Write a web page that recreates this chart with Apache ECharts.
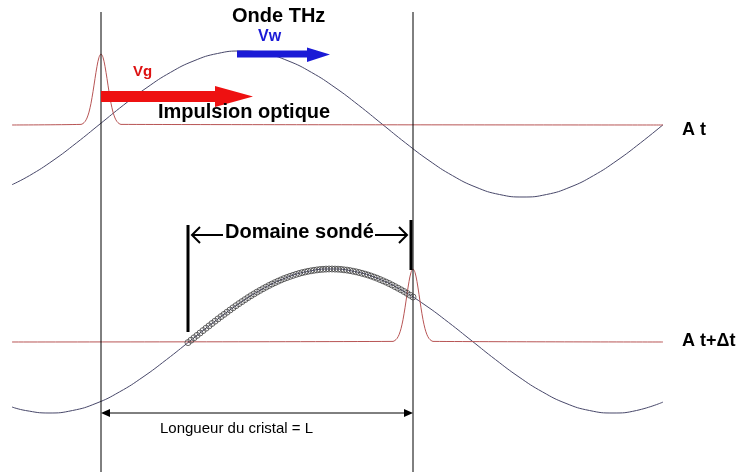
<!DOCTYPE html>
<html>
<head>
<meta charset="utf-8">
<script src="https://cdn.jsdelivr.net/npm/echarts@6/dist/echarts.min.js"></script>
<style>
html,body{margin:0;padding:0;background:#fff;}
#chart{width:737px;height:472px;}
</style>
</head>
<body>
<div id="chart"></div>
<script>
// THz wave (upper, time t)
const topWaveX = [12, 29.5, 53, 76.5, 100, 123.5, 147, 170.5, 194, 217.5, 241, 264.5, 288, 311.5, 335, 358.5, 382, 405.5, 429, 452.5, 476, 499.5, 523, 546.5, 570, 593.5, 617, 640.5, 663];
const topWaveY = [184.7, 175.6, 160.5, 142.9, 124, 105.1, 87.5, 72.4, 60.8, 53.5, 51, 53.5, 60.8, 72.4, 87.5, 105.1, 124, 142.9, 160.5, 175.6, 187.2, 194.5, 197, 194.5, 187.2, 175.6, 160.5, 142.9, 124.8];
// THz wave (lower, time t+dt)
const botWaveX = [12, 25.5, 49, 72.5, 96, 119.5, 143, 166.5, 190, 213.5, 237, 260.5, 284, 307.5, 331, 354.5, 378, 401.5, 425, 448.5, 472, 495.5, 519, 542.5, 566, 589.5, 613, 636.5, 663];
const botWaveY = [407, 410.5, 413, 410.5, 403.4, 391.9, 377, 359.6, 341, 322.4, 305, 290.1, 278.6, 271.5, 269, 271.5, 278.6, 290.1, 305, 322.4, 341, 359.6, 377, 391.9, 403.4, 410.5, 413, 410.5, 402.1];
// optical pulse (upper)
const topPulseX = [12, 81, 83, 85, 87, 89, 91, 93, 95, 97, 99, 101, 103, 105, 107, 109, 111, 113, 115, 117, 119, 121, 663];
const topPulseY = [125, 124.4, 123.5, 121.6, 118.0, 112.1, 103.3, 91.7, 78.6, 66.3, 57.3, 54, 57.3, 66.3, 78.6, 91.7, 103.3, 112.1, 118.0, 121.6, 123.5, 124.4, 125];
// optical pulse (lower)
const botPulseX = [12, 393, 395, 397, 399, 401, 403, 405, 407, 409, 411, 413, 415, 417, 419, 421, 423, 425, 427, 429, 431, 433, 663];
const botPulseY = [342, 341.4, 340.4, 338.5, 334.8, 328.7, 319.7, 307.8, 294.3, 281.6, 272.4, 269, 272.4, 281.6, 294.3, 307.8, 319.7, 328.7, 334.8, 338.5, 340.4, 341.4, 342];
// probed domain markers
const probeX = [188,191,194,197,200,203,206,209,212,215,218,221,224,227,230,233,236,239,242,245,248,251,254,257,260,263,266,269,272,275,278,281,284,287,290,293,296,299,302,305,308,311,314,317,320,323,326,329,332,335,338,341,344,347,350,353,356,359,362,365,368,371,374,377,380,383,386,389,392,395,398,401,404,407,410,413];
const probeY = [342.6,340.2,337.8,335.4,333.0,330.6,328.2,325.9,323.5,321.2,318.9,316.6,314.4,312.2,310.0,307.8,305.7,303.6,301.6,299.6,297.6,295.7,293.9,292.1,290.4,288.7,287.1,285.5,284.0,282.6,281.2,279.9,278.6,277.5,276.4,275.4,274.4,273.5,272.7,272.0,271.3,270.8,270.3,269.9,269.5,269.3,269.1,269.0,269.0,269.1,269.2,269.4,269.8,270.1,270.6,271.2,271.8,272.5,273.3,274.1,275.0,276.0,277.1,278.2,279.5,280.8,282.1,283.5,285.0,286.6,288.2,289.8,291.5,293.3,295.2,297.0];
// guide lines
const crystalEdges = [101, 413];
const guideTop = 12, guideBottom = 472;
const probeStartX = 188, probeStartY = [225, 332];
const probeEndX = 411, probeEndY = [220, 270];
// labels
const labels = {
  onde: 'Onde THz', vw: 'Vw', vg: 'Vg', impulsion: 'Impulsion optique',
  domaine: 'Domaine sondé', at: 'A t', atdt: 'A t+Δt', longueur: 'Longueur du cristal = L'
};

const zip = (xs, ys) => xs.map((x, i) => [x, ys[i]]);
const chart = echarts.init(document.getElementById('chart'), null, {renderer: 'canvas'});
const waveColor = '#48486a';
const redColor = '#b85555';
const FF = '"Liberation Sans", Arial, sans-serif';

function vline(x, y0, y1, w) {
  return {type: 'line', data: [[x, y0], [x, y1]], symbol: 'none', silent: true,
    lineStyle: {color: '#000', width: w}, z: 3};
}

const option = {
  animation: false,
  backgroundColor: '#fff',
  grid: {left: 0, right: 0, top: 0, bottom: 0},
  xAxis: {type: 'value', min: 0, max: 737, show: false},
  yAxis: {type: 'value', min: 0, max: 472, inverse: true, show: false},
  series: [
    {type: 'line', data: zip(topWaveX, topWaveY), smooth: 0.5, symbol: 'none', lineStyle: {color: waveColor, width: 1}, z: 2},
    {type: 'line', data: zip(botWaveX, botWaveY), smooth: 0.5, symbol: 'none', lineStyle: {color: waveColor, width: 1}, z: 2},
    {type: 'line', data: zip(topPulseX, topPulseY), smooth: 0.3, symbol: 'none', lineStyle: {color: redColor, width: 1}, z: 2},
    {type: 'line', data: zip(botPulseX, botPulseY), smooth: 0.3, symbol: 'none', lineStyle: {color: redColor, width: 1}, z: 2},
    {type: 'scatter', data: zip(probeX, probeY), symbol: 'circle', symbolSize: 6,
      itemStyle: {color: 'rgba(255,255,255,0)', borderColor: '#444', borderWidth: 1}, z: 4},
    vline(crystalEdges[0], guideTop, guideBottom, 1),
    vline(crystalEdges[1], guideTop, guideBottom, 1),
    vline(probeStartX, probeStartY[0], probeStartY[1], 3),
    vline(probeEndX, probeEndY[0], probeEndY[1], 3)
  ],
  graphic: [
    // optical pulse arrow (red)
    {type: 'polygon', z: 10, shape: {points: [[101,91],[215,91],[215,86],[253,96.5],[215,107],[215,102],[101,102]]}, style: {fill: '#ee1111'}},
    // THz arrow (blue)
    {type: 'polygon', z: 10, shape: {points: [[237,50.5],[307,50.5],[307,47.5],[330,54.5],[307,62],[307,57.5],[237,57.5]]}, style: {fill: '#1a1ad6'}},
    // Domaine sondé arrows
    {type: 'polyline', z: 10, shape: {points: [[192,235],[223,235]]}, style: {stroke: '#000', lineWidth: 2}},
    {type: 'polyline', z: 10, shape: {points: [[200,227],[192,235],[200,243]]}, style: {stroke: '#000', lineWidth: 2, fill: null}},
    {type: 'polyline', z: 10, shape: {points: [[375,235],[407,235]]}, style: {stroke: '#000', lineWidth: 2}},
    {type: 'polyline', z: 10, shape: {points: [[399,227],[407,235],[399,243]]}, style: {stroke: '#000', lineWidth: 2, fill: null}},
    // crystal length arrow
    {type: 'polyline', z: 10, shape: {points: [[104,413],[410,413]]}, style: {stroke: '#000', lineWidth: 1}},
    {type: 'polygon', z: 10, shape: {points: [[101,413],[110,409],[110,417]]}, style: {fill: '#000'}},
    {type: 'polygon', z: 10, shape: {points: [[413,413],[404,409],[404,417]]}, style: {fill: '#000'}},
    // texts
    {type: 'text', z: 11, x: 232, y: 16.5, style: {text: labels.onde, font: 'bold 20px ' + FF, fill: '#000', verticalAlign: 'middle'}},
    {type: 'text', z: 11, x: 258, y: 36.5, style: {text: labels.vw, font: 'bold 16px ' + FF, fill: '#1a1ad6', verticalAlign: 'middle'}},
    {type: 'text', z: 11, x: 133, y: 71.5, style: {text: labels.vg, font: 'bold 15px ' + FF, fill: '#dd1111', verticalAlign: 'middle'}},
    {type: 'text', z: 11, x: 158, y: 112, style: {text: labels.impulsion, font: 'bold 20px ' + FF, fill: '#000', verticalAlign: 'middle'}},
    {type: 'text', z: 11, x: 225, y: 232, style: {text: labels.domaine, font: 'bold 20px ' + FF, fill: '#000', verticalAlign: 'middle'}},
    {type: 'text', z: 11, x: 682, y: 130, style: {text: labels.at, font: 'bold 18px ' + FF, fill: '#000', verticalAlign: 'middle'}},
    {type: 'text', z: 11, x: 682, y: 341.5, style: {text: labels.atdt, font: 'bold 18px ' + FF, fill: '#000', verticalAlign: 'middle'}},
    {type: 'text', z: 11, x: 160, y: 429, style: {text: labels.longueur, font: '15px ' + FF, fill: '#000', verticalAlign: 'middle'}}
  ]
};
chart.setOption(option);
</script>
</body>
</html>
